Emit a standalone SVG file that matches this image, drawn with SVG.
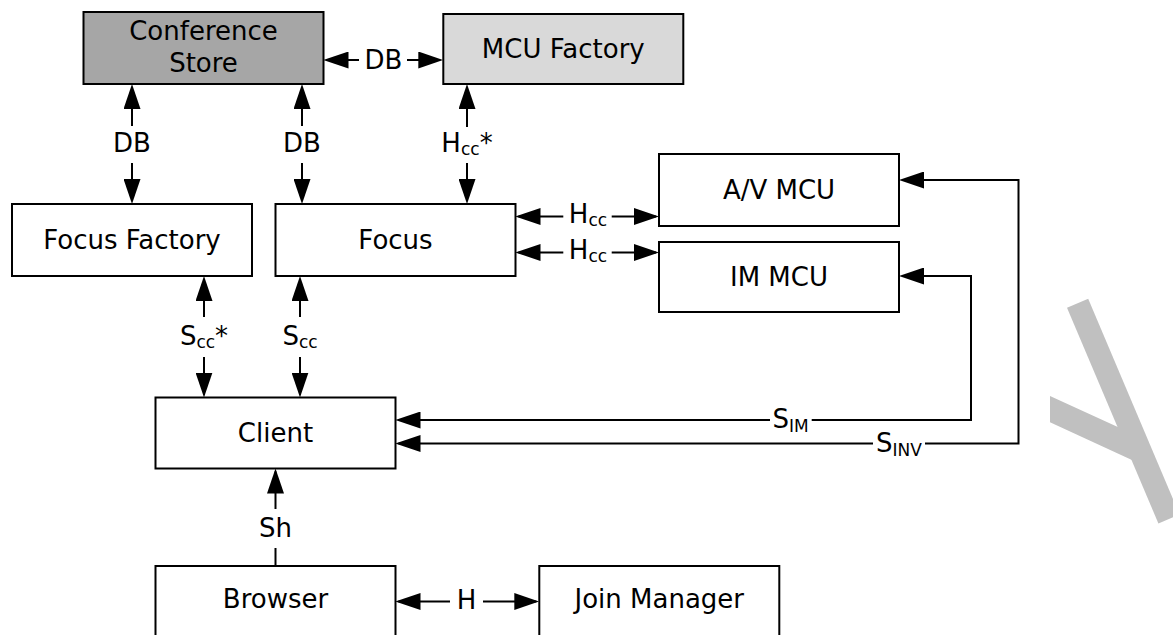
<svg xmlns="http://www.w3.org/2000/svg" width="1173" height="635" viewBox="0 0 1173 635">
<style>
.box{stroke:#000;stroke-width:2;fill:#fff}
.t{font-family:"DejaVu Sans",Verdana,sans-serif;font-size:26px;fill:#000;text-anchor:middle}
.sub{font-size:17px}
.c{fill:none;stroke:#000;stroke-width:2}
.a{marker-end:url(#ah)}
.wm{stroke:#c0c0c0;stroke-linecap:butt;fill:none}
</style>
<defs>
<marker id="ah" markerUnits="userSpaceOnUse" markerWidth="25" markerHeight="17" refX="22" refY="8.5" orient="auto">
<path d="M0,0 L25,8.5 L0,17 z" fill="#000"/>
</marker>
<clipPath id="wmclip"><rect x="1050" y="0" width="200" height="700"/></clipPath>
</defs>
<rect width="1173" height="635" fill="#fff"/>
<g id="watermark" clip-path="url(#wmclip)">
<line class="wm" x1="1077.6" y1="303.3" x2="1169" y2="519" stroke-width="23"/>
<line class="wm" x1="1040" y1="404.5" x2="1138" y2="449.5" stroke-width="24"/>
</g>
<g id="conference-store">
<rect class="box" x="83.5" y="12" width="240" height="72" style="fill:#a6a6a6"/>
<text class="t" x="203.5" y="40">Conference</text>
<text class="t" x="203.5" y="71.7">Store</text>
</g>
<g id="mcu-factory">
<rect class="box" x="443.3" y="14" width="240" height="70" style="fill:#d9d9d9"/>
<text class="t" x="563.3" y="57.5">MCU Factory</text>
</g>
<g id="focus-factory">
<rect class="box" x="12" y="204" width="240" height="72"/>
<text class="t" x="132" y="248.5">Focus Factory</text>
</g>
<g id="focus">
<rect class="box" x="275.5" y="204" width="240" height="72"/>
<text class="t" x="395.5" y="248.5">Focus</text>
</g>
<g id="av-mcu">
<rect class="box" x="659" y="154" width="240" height="72"/>
<text class="t" x="779" y="198.5">A/V MCU</text>
</g>
<g id="im-mcu">
<rect class="box" x="659" y="242" width="240" height="70"/>
<text class="t" x="779" y="285.5">IM MCU</text>
</g>
<g id="client">
<rect class="box" x="155.5" y="397.5" width="240" height="71"/>
<text class="t" x="275.5" y="441.5">Client</text>
</g>
<g id="browser">
<rect class="box" x="155.5" y="566" width="240" height="70"/>
<text class="t" x="275.5" y="608.3">Browser</text>
</g>
<g id="join-manager">
<rect class="box" x="539.3" y="566" width="240" height="70"/>
<text class="t" x="659.3" y="608.3">Join Manager</text>
</g>
<g id="connectors">
<path class="c a" d="M359,60 L326.5,60"/>
<path class="c a" d="M407,60 L440.3,60"/>
<text class="t" x="383.5" y="68.5">DB</text>
<path class="c a" d="M132,126 L132,87"/>
<path class="c a" d="M132,163 L132,201"/>
<text class="t" x="132" y="152">DB</text>
<path class="c a" d="M302,126 L302,87"/>
<path class="c a" d="M302,163 L302,201"/>
<text class="t" x="302" y="152">DB</text>
<path class="c a" d="M467,127 L467,87"/>
<path class="c a" d="M467,163 L467,201"/>
<text class="t" x="467" y="152">H<tspan class="sub" dy="3">cc</tspan><tspan dy="-3">*</tspan></text>
<path class="c a" d="M563.3,216.5 L518.5,216.5"/>
<path class="c a" d="M611.7,216.5 L656,216.5"/>
<text class="t" x="588" y="222.5">H<tspan class="sub" dy="3">cc</tspan></text>
<path class="c a" d="M563.3,252.5 L518.5,252.5"/>
<path class="c a" d="M611.7,252.5 L656,252.5"/>
<text class="t" x="588" y="259">H<tspan class="sub" dy="3">cc</tspan></text>
<path class="c a" d="M204,317 L204,279"/>
<path class="c a" d="M204,357 L204,394.5"/>
<text class="t" x="204" y="345">S<tspan class="sub" dy="3">cc</tspan><tspan dy="-3">*</tspan></text>
<path class="c a" d="M300,317 L300,279"/>
<path class="c a" d="M300,357 L300,394.5"/>
<text class="t" x="300" y="345">S<tspan class="sub" dy="3">cc</tspan></text>
<path class="c a" d="M275.5,509 L275.5,471.5"/>
<path class="c" d="M275.5,548 L275.5,566"/>
<text class="t" x="275.5" y="537">Sh</text>
<path class="c a" d="M450,601.5 L398.5,601.5"/>
<path class="c a" d="M483,601.5 L536.3,601.5"/>
<text class="t" x="466.5" y="609.3">H</text>
<path class="c a" d="M770,420 L398.5,420"/>
<path class="c a" d="M811.7,420 L971,420 L971,276 L902,276"/>
<text class="t" x="790.5" y="428.3">S<tspan class="sub" dy="4">IM</tspan></text>
<path class="c a" d="M873,443.5 L398.5,443.5"/>
<path class="c a" d="M925,443.5 L1018.5,443.5 L1018.5,180 L902,180"/>
<text class="t" x="899" y="451.7">S<tspan class="sub" dy="4">INV</tspan></text>
</g>
</svg>
